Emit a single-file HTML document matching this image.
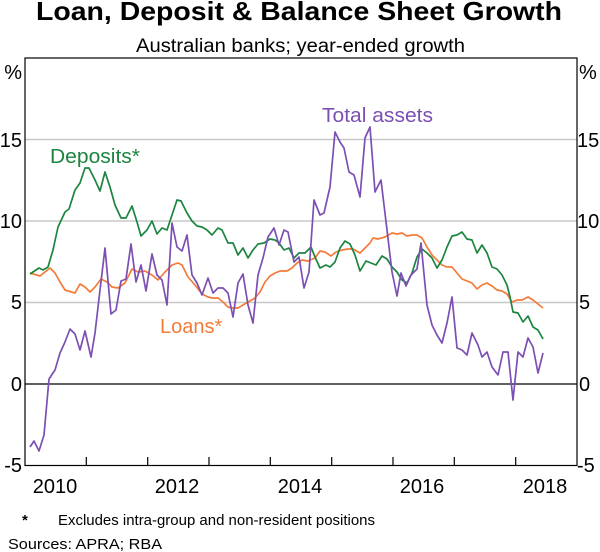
<!DOCTYPE html><html><head><style>body{margin:0;background:#fff}svg{display:block;font-family:"Liberation Sans",Arial,sans-serif}</style></head><body>
<svg width="600" height="552" viewBox="0 0 600 552">
<text x="36" y="20" font-size="26" font-weight="bold" textLength="526" lengthAdjust="spacingAndGlyphs">Loan, Deposit &amp; Balance Sheet Growth</text>
<text x="136" y="52" font-size="19" textLength="329" lengthAdjust="spacingAndGlyphs">Australian banks; year-ended growth</text>
<g stroke="#c8c8c8" stroke-width="1.5"><line x1="25" x2="577" y1="139.5" y2="139.5"/><line x1="25" x2="577" y1="221" y2="221"/><line x1="25" x2="577" y1="302.5" y2="302.5"/></g>
<line x1="25" x2="577" y1="384" y2="384" stroke="#000" stroke-width="1.2"/>
<rect x="25" y="58" width="552" height="407.5" fill="none" stroke="#000" stroke-width="1.2"/>
<g stroke="#000" stroke-width="1.2"><line x1="86.3" x2="86.3" y1="465.5" y2="457"/><line x1="147.7" x2="147.7" y1="465.5" y2="457"/><line x1="209" x2="209" y1="465.5" y2="457"/><line x1="270.3" x2="270.3" y1="465.5" y2="457"/><line x1="331.7" x2="331.7" y1="465.5" y2="457"/><line x1="393" x2="393" y1="465.5" y2="457"/><line x1="454.3" x2="454.3" y1="465.5" y2="457"/><line x1="515.7" x2="515.7" y1="465.5" y2="457"/></g>
<g font-size="20"><g text-anchor="end"><text x="22" y="79">%</text><text x="22" y="147">15</text><text x="22" y="228">10</text><text x="22" y="309">5</text><text x="22" y="391">0</text><text x="22" y="472">-5</text></g>
<g text-anchor="start"><text x="579" y="79">%</text><text x="577" y="147">15</text><text x="577" y="228">10</text><text x="579" y="309">5</text><text x="579" y="391">0</text><text x="577" y="472">-5</text></g>
<g text-anchor="middle"><text x="55" y="493">2010</text><text x="177" y="493">2012</text><text x="300" y="493">2014</text><text x="422" y="493">2016</text><text x="545" y="493">2018</text></g></g>
<g fill="none" stroke-width="1.7" stroke-linejoin="round">
<polyline stroke="#f47a3a" points="30,273 40,276 50,268 55,273 60,282 65,290 75,293 80,284 85,287 90,292 95,287 101,279 107,282 112,287 118,288 125,283 132,269 138,272 145,271 152,275 158,280 165,272 172,265 178,263 182,265 188,277 195,285 202,294 208,297 212,298 218,298 223,302 228,307 233,308 238,308 243,305 248,302 255,298 260,292 265,282 270,276 275,273 280,271 287,271 292,268 297,263 302,260 308,261 315,258 320,251 325,252 331,256 336,252 342,250 348,249 353,249 360,253 365,248 370,243 373,238 378,239 385,237 392,233 397,234 402,233 407,236 412,235 417,235 422,238 427,247 432,255 437,260 442,265 447,267 452,267 457,273 462,279 467,281 472,283 477,289 482,285 487,283 492,286 497,290 502,291 507,294 512,302 517,300 522,300 528,297 533,300 538,304 543,308"/>
<polyline stroke="#1b8540" points="30,274 39,268 43,270 48,267 53,250 58,227 65,212 69,209 75,190 80,183 85,168 89,168 95,180 100,191 105,172 110,187 115,205 121,218 126,218 132,206 137,222 141,236 147,230 152,221 157,234 162,228 167,230 172,215 177,200 181,201 187,213 192,221 197,226 202,227 207,230 212,235 218,228 222,230 228,243 233,243 238,255 243,248 248,258 253,250 258,244 264,243 270,239 275,240 279,243 284,250 289,248 294,258 299,253 305,253 311,247 315,257 320,268 326,265 330,267 335,262 340,248 345,241 350,244 355,255 360,271 366,261 371,263 376,265 382,256 387,259 392,267 397,272 402,280 407,283 412,273 417,257 422,249 427,253 432,258 437,268 442,260 447,247 452,236 457,235 462,232 467,239 472,240 477,253 482,245 487,253 492,267 497,269 502,275 507,285 510,297 513,312 518,313 523,322 528,316 533,327 538,330 543,339"/>
<polyline stroke="#7b4fb3" points="30,447 34,441 39,451 44,435 49,379 55,370 60,353 65,342 70,329 75,334 80,350 85,331 91,357 95,333 100,290 105,248 111,314 116,310 121,281 126,279 131,244 136,282 141,265 146,291 152,254 157,275 162,280 167,305 172,223 177,247 182,251 187,235 192,275 197,283 202,295 208,278 213,293 218,288 223,288 228,293 233,317 238,283 243,274 248,305 253,323 258,275 263,258 268,237 274,228 279,245 284,230 288,232 294,262 299,257 304,288 309,272 314,200 320,215 324,213 330,187 335,132 340,142 344,148 349,172 354,175 360,197 365,138 370,127 375,192 381,180 387,230 392,272 397,296 401,273 406,286 411,275 417,269 421,243 427,305 432,325 437,335 442,343 447,323 452,297 457,348 462,350 467,355 472,333 478,345 482,357 487,352 492,367 498,375 503,352 508,352 513,400 518,352 523,357 528,338 533,347 538,373 543,353"/>
</g>
<text x="50" y="163" font-size="20" fill="#1b8540" textLength="90" lengthAdjust="spacingAndGlyphs">Deposits*</text>
<text x="322" y="122" font-size="20" fill="#7b4fb3" textLength="111" lengthAdjust="spacingAndGlyphs">Total assets</text>
<text x="160" y="333" font-size="20" fill="#f47a3a">Loans*</text>
<text x="22" y="525" font-size="15" font-weight="bold">*</text>
<text x="58" y="525" font-size="15" textLength="317" lengthAdjust="spacingAndGlyphs">Excludes intra-group and non-resident positions</text>
<text x="8" y="549" font-size="15" textLength="154" lengthAdjust="spacingAndGlyphs">Sources: APRA; RBA</text>
</svg></body></html>
